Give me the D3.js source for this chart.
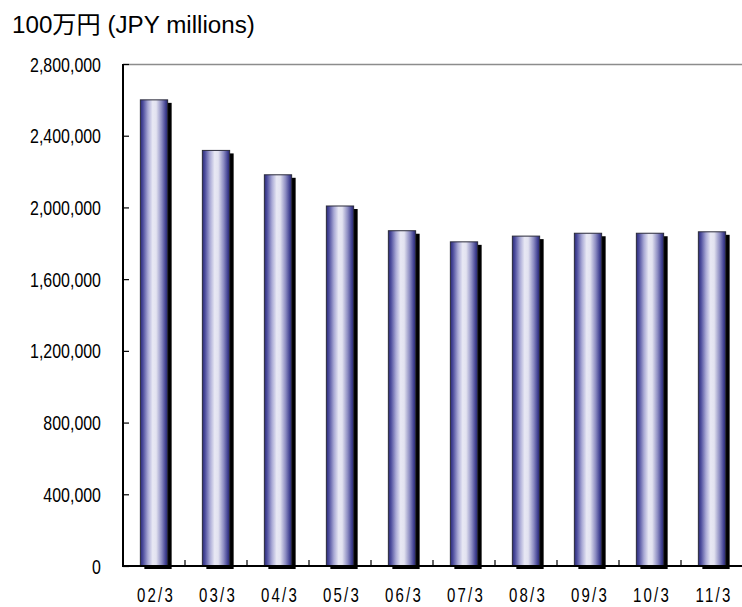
<!DOCTYPE html>
<html><head><meta charset="utf-8">
<script src="https://cdn.jsdelivr.net/npm/d3@7"></script>
<style>
html,body{margin:0;padding:0;background:#fff;}
svg{display:block;}
</style></head>
<body>
<svg id="chart" width="742" height="607"></svg>
<script>
const categories = ["02/3","03/3","04/3","05/3","06/3","07/3","08/3","09/3","10/3","11/3"];
const values = [2600000, 2318000, 2182000, 2008000, 1870000, 1808000, 1840000, 1856000, 1856000, 1864000];
const yTicks = [0, 400000, 800000, 1200000, 1600000, 2000000, 2400000, 2800000];
const unitLabel = "100万円 (JPY millions)";

const svg = d3.select("#chart");
const L = 123, R = 743, T = 64, B = 566;

const x = d3.scaleBand().domain(categories).range([L, R]).paddingInner(0.56).paddingOuter(0.28);
const xEdge = d3.scaleBand().domain(categories).range([L, R]).padding(0);
const y = d3.scaleLinear().domain([0, 2800000]).range([B, T]);

const defs = svg.append("defs");
const g = defs.append("linearGradient").attr("id","barGrad").attr("x1","0%").attr("x2","100%").attr("y1","0%").attr("y2","0%");
[[0,"#2a2a78"],[0.1,"#4e4e9e"],[0.28,"#aaaad6"],[0.45,"#e8e8f4"],[0.58,"#e2e2f0"],[0.78,"#8c8cc2"],[0.92,"#454594"],[1,"#24246c"]]
  .forEach(([o,c]) => g.append("stop").attr("offset", o).attr("stop-color", c));

// title
svg.append("text").attr("x", 12).attr("y", 33)
  .attr("font-family", "'Liberation Sans', Arial, 'Noto Sans CJK JP', sans-serif")
  .attr("font-size", 24.2).attr("fill", "#000").text(unitLabel);

// top border
svg.append("line").attr("x1", L).attr("x2", 742).attr("y1", T + 0.5).attr("y2", T + 0.5)
  .attr("stroke", "#8c8c8c").attr("stroke-width", 1.5);

// shadows
svg.append("g").selectAll("rect").data(values).join("rect")
  .attr("x", (d,i) => x(categories[i]) + 4)
  .attr("y", d => y(d) + 3)
  .attr("width", x.bandwidth())
  .attr("height", d => B - y(d))
  .attr("fill", "#000");

// bars
svg.append("g").selectAll("rect").data(values).join("rect")
  .attr("x", (d,i) => x(categories[i]))
  .attr("y", d => y(d))
  .attr("width", x.bandwidth())
  .attr("height", d => B - y(d))
  .attr("fill", "url(#barGrad)")
  .attr("stroke", "#2a2a3a").attr("stroke-width", 1);

// y axis
const yAxis = svg.append("g").attr("transform", `translate(${L},0)`)
  .call(d3.axisRight(y).tickValues(yTicks).tickSize(6).tickFormat(""));
yAxis.select(".domain").remove();
yAxis.selectAll(".tick line").attr("stroke", "#000").attr("stroke-width", 1.2);
svg.append("line").attr("x1", L).attr("x2", L).attr("y1", T).attr("y2", B + 1)
  .attr("stroke", "#000").attr("stroke-width", 2);

svg.append("g").selectAll("text").data(yTicks).join("text")
  .attr("transform", d => `translate(101,${y(d) + 7.5}) scale(0.76,1)`)
  .attr("text-anchor", "end")
  .attr("font-family", "'Liberation Sans', Arial, sans-serif")
  .attr("font-size", 21).attr("fill", "#000")
  .text(d => d3.format(",")(d));

// x axis
const xAxis = svg.append("g").attr("transform", `translate(0,${B})`)
  .call(d3.axisTop(xEdge).tickSize(0).tickFormat(""));
xAxis.select(".domain").remove();
svg.append("g").selectAll("line").data(categories).join("line")
  .attr("x1", d => xEdge(d) + xEdge.bandwidth()).attr("x2", d => xEdge(d) + xEdge.bandwidth())
  .attr("y1", B).attr("y2", B - 6).attr("stroke", "#000").attr("stroke-width", 1.2);
svg.append("line").attr("x1", L - 1).attr("x2", 742).attr("y1", B).attr("y2", B)
  .attr("stroke", "#000").attr("stroke-width", 2);

svg.append("g").selectAll("text").data(categories).join("text")
  .attr("transform", d => `translate(${x(d) + x.bandwidth() / 2 + 2},602) scale(0.75,1)`)
  .attr("text-anchor", "middle")
  .attr("font-family", "'Liberation Sans', Arial, sans-serif")
  .attr("font-size", 20).attr("letter-spacing", 3).attr("fill", "#000")
  .text(d => d);
</script>
</body></html>
